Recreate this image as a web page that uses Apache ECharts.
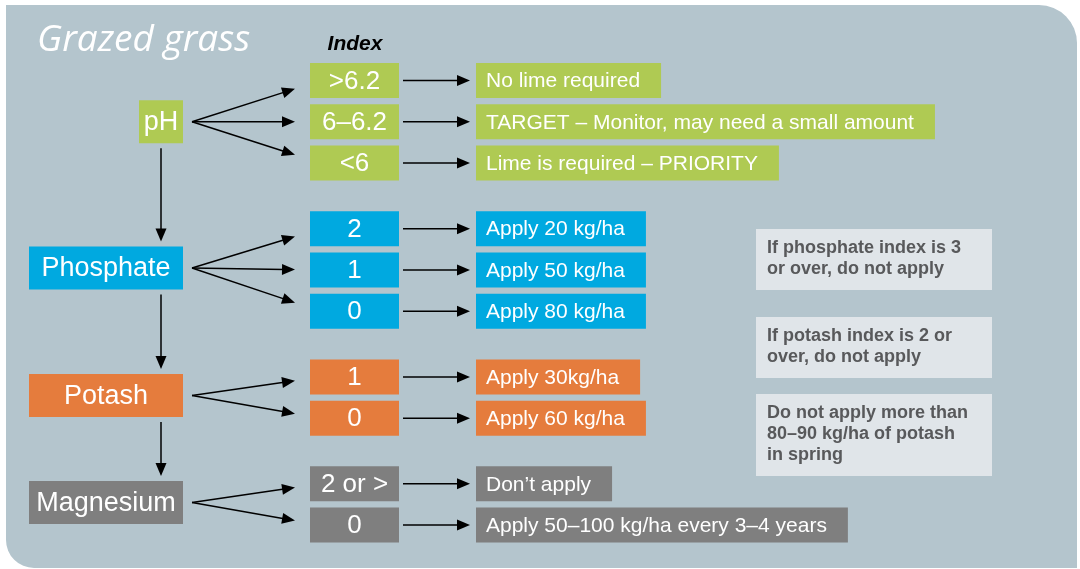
<!DOCTYPE html>
<html>
<head>
<meta charset="utf-8">
<script src="https://cdn.jsdelivr.net/npm/echarts@6/dist/echarts.min.js"></script>
<style>
html,body{margin:0;padding:0;background:#ffffff;}
#chart{width:1080px;height:569px;}
</style>
</head>
<body>
<div id="chart"></div>
<script>
// ---------- DATA (text content only) ----------
const chartTitle = 'Grazed grass';
const indexHeading = 'Index';
const nutrients = ['pH', 'Phosphate', 'Potash', 'Magnesium'];
const pHIndex = ['>6.2', '6–6.2', '<6'];
const pHAdvice = ['No lime required', 'TARGET – Monitor, may need a small amount', 'Lime is required – PRIORITY'];
const phosphateIndex = ['2', '1', '0'];
const phosphateAdvice = ['Apply 20 kg/ha', 'Apply 50 kg/ha', 'Apply 80 kg/ha'];
const potashIndex = ['1', '0'];
const potashAdvice = ['Apply 30kg/ha', 'Apply 60 kg/ha'];
const magnesiumIndex = ['2 or >', '0'];
const magnesiumAdvice = ['Don’t apply', 'Apply 50–100 kg/ha every 3–4 years'];
const notes = [
  ['If phosphate index is 3', 'or over, do not apply'],
  ['If potash index is 2 or', 'over, do not apply'],
  ['Do not apply more than', '80–90 kg/ha of potash', 'in spring']
];

// ---------- STYLE / LAYOUT ----------
const groupIndex = [pHIndex, phosphateIndex, potashIndex, magnesiumIndex];
const groupAdvice = [pHAdvice, phosphateAdvice, potashAdvice, magnesiumAdvice];
const groupColors = ['#afca53', '#00a9e0', '#e57c3d', '#7f7f7f'];
const PANEL = '#b4c5cd';
const NOTE_BG = '#e0e5e9';
const NOTE_FG = '#58595b';
const SANS = '"Liberation Sans", Arial, Helvetica, sans-serif';
const F_ADV = '21px ' + SANS;
const F_IDX = '26px ' + SANS;
const F_NUT = '27px ' + SANS;
const F_NOTE = 'bold 18px ' + SANS;

const L = {
  rowY0: 80.5, rowStep: 41.3, groupGap: 24.3, rowH: 35,
  idxX0: 310, idxX1: 399,
  arrX0: 403, arrX1: 470,
  advX0: 476, advPadL: 10, advPadR: 21,
  nutX1: 183, nutW: 154, phW: 44, nutH: 43,
  fanX0: 192, fanX1: 295, fanSpread: 0.8,
  vX: 161, vGap: 5,
  noteX0: 756, noteX1: 992, noteTops: [229, 317, 394], noteLineH: 21, notePadT: 8.5, notePadL: 11
};

const mctx = document.createElement('canvas').getContext('2d');
function textWidth(t, font) { mctx.font = font; return mctx.measureText(t).width; }

// ---------- BUILD MARKS FROM DATA ----------
const boxes = [];
const arrows = [];
const nutBoxes = [];
let row = 0;
nutrients.forEach((name, g) => {
  const idx = groupIndex[g];
  const adv = groupAdvice[g];
  const ys = idx.map((_, k) => L.rowY0 + (row + k) * L.rowStep + g * L.groupGap);
  const cy = (ys[0] + ys[ys.length - 1]) / 2 - (g === 0 ? 0 : 2);
  const w = g === 0 ? L.phW : L.nutW;
  const nb = { x0: L.nutX1 - w, y0: cy - L.nutH / 2, x1: L.nutX1, y1: cy + L.nutH / 2,
    fill: groupColors[g], text: name, font: F_NUT, color: '#ffffff', align: 'center', tx: L.nutX1 - w / 2 };
  boxes.push(nb); nutBoxes.push(nb);
  idx.forEach((lab, k) => {
    const y = ys[k];
    boxes.push({ x0: L.idxX0, y0: y - L.rowH / 2, x1: L.idxX1, y1: y + L.rowH / 2,
      fill: groupColors[g], text: lab, font: F_IDX, color: '#ffffff', align: 'center', tx: (L.idxX0 + L.idxX1) / 2 });
    const aw = textWidth(adv[k], F_ADV) + L.advPadL + L.advPadR;
    boxes.push({ x0: L.advX0, y0: y - L.rowH / 2, x1: L.advX0 + aw, y1: y + L.rowH / 2,
      fill: groupColors[g], text: adv[k], font: F_ADV, color: '#ffffff', align: 'left', tx: L.advX0 + L.advPadL });
    arrows.push({ x0: L.fanX0, y0: cy, x1: L.fanX1, y1: cy + (y - cy) * L.fanSpread });
    arrows.push({ x0: L.arrX0, y0: y, x1: L.arrX1, y1: y });
  });
  row += idx.length;
});
for (let i = 0; i < nutBoxes.length - 1; i++) {
  arrows.push({ x0: L.vX, y0: nutBoxes[i].y1 + L.vGap, x1: L.vX, y1: nutBoxes[i + 1].y0 - L.vGap });
}
notes.forEach((lines, i) => {
  const top = L.noteTops[i];
  const h = lines.length * L.noteLineH + 19;
  boxes.push({ x0: L.noteX0, y0: top, x1: L.noteX1, y1: top + h, fill: NOTE_BG,
    text: lines.join('\n'), font: F_NOTE, color: NOTE_FG, align: 'left', tx: L.noteX0 + L.notePadL, lines: lines.length });
});

// ---------- CHART ----------
const chart = echarts.init(document.getElementById('chart'), null, { renderer: 'canvas' });
const option = {
  animation: false,
  grid: { left: 0, right: 0, top: 0, bottom: 0 },
  xAxis: { type: 'value', min: 0, max: 1080, show: false },
  yAxis: { type: 'value', min: 0, max: 569, inverse: true, show: false },
  graphic: [
    { type: 'rect', z: -10, silent: true,
      shape: { x: 6, y: 5, width: 1071, height: 563, r: [0, 38, 0, 28] },
      style: { fill: PANEL } },
    { type: 'text', z: 10, silent: true,
      style: { text: chartTitle, x: 37, y: 40, fill: '#ffffff', font: 'italic 37px "Open Sans", "Noto Sans", sans-serif',
        textAlign: 'left', textVerticalAlign: 'middle', align: 'left', verticalAlign: 'middle' } },
    { type: 'text', z: 10, silent: true,
      style: { text: indexHeading, x: 355, y: 44, fill: '#000000', font: 'italic bold 21px ' + SANS,
        textAlign: 'center', textVerticalAlign: 'middle', align: 'center', verticalAlign: 'middle' } }
  ],
  series: [
    {
      type: 'custom', name: 'boxes', silent: true,
      data: boxes.map(b => [b.x0, b.y0, b.x1, b.y1]),
      encode: { x: [0, 2], y: [1, 3] },
      renderItem: function (params, api) {
        const b = boxes[params.dataIndex];
        const p0 = api.coord([api.value(0), api.value(1)]);
        const p1 = api.coord([api.value(2), api.value(3)]);
        const tx = api.coord([b.tx, 0])[0];
        const children = [
          { type: 'rect', shape: { x: p0[0], y: p0[1], width: p1[0] - p0[0], height: p1[1] - p0[1] },
            style: { fill: b.fill } }
        ];
        if (b.lines) {
          children.push({ type: 'text', style: { text: b.text, x: tx, y: p0[1] + L.notePadT, fill: b.color, font: b.font,
            lineHeight: L.noteLineH, textAlign: 'left', align: 'left', textVerticalAlign: 'top', verticalAlign: 'top' } });
        } else {
          children.push({ type: 'text', style: { text: b.text, x: tx, y: (p0[1] + p1[1]) / 2 + 1, fill: b.color, font: b.font,
            textAlign: b.align, align: b.align, textVerticalAlign: 'middle', verticalAlign: 'middle' } });
        }
        return { type: 'group', children: children };
      }
    },
    {
      type: 'custom', name: 'arrows', silent: true,
      data: arrows.map(a => [a.x0, a.y0, a.x1, a.y1]),
      encode: { x: [0, 2], y: [1, 3] },
      renderItem: function (params, api) {
        const p0 = api.coord([api.value(0), api.value(1)]);
        const p1 = api.coord([api.value(2), api.value(3)]);
        const dx = p1[0] - p0[0], dy = p1[1] - p0[1];
        const len = Math.sqrt(dx * dx + dy * dy);
        const ux = dx / len, uy = dy / len;
        const hl = 13, hw = 5.5;
        const bx = p1[0] - ux * hl, by = p1[1] - uy * hl;
        return {
          type: 'group',
          children: [
            { type: 'line', shape: { x1: p0[0], y1: p0[1], x2: bx + ux * 2, y2: by + uy * 2 },
              style: { stroke: '#000000', lineWidth: 1.5 } },
            { type: 'polygon', shape: { points: [[p1[0], p1[1]], [bx - uy * hw, by + ux * hw], [bx + uy * hw, by - ux * hw]] },
              style: { fill: '#000000' } }
          ]
        };
      }
    }
  ]
};
chart.setOption(option);
</script>
</body>
</html>
